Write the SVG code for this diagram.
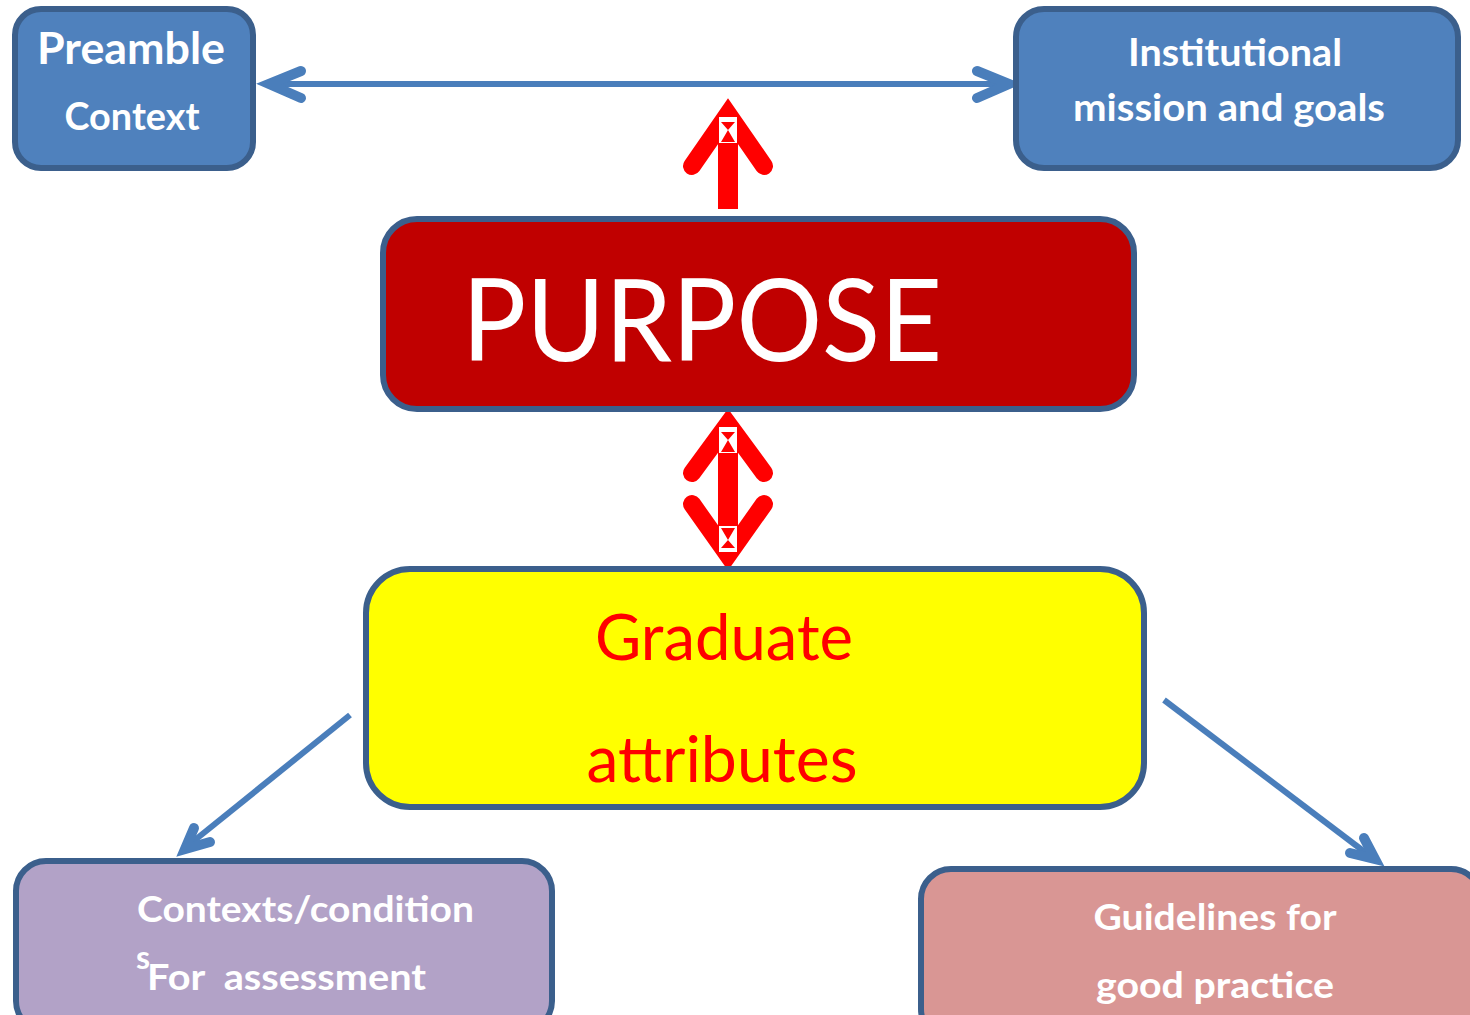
<svg xmlns="http://www.w3.org/2000/svg" width="1470" height="1015" viewBox="0 0 1470 1015">
  <style>
    .box { stroke: #3B5F8C; stroke-width: 6; }
    .lbl { font-family: Lato, "Open Sans", "Liberation Sans", sans-serif; fill: #FFFFFF; font-weight: bold; }
    .blue { fill: none; stroke: #4A7EBB; stroke-linecap: round; stroke-linejoin: miter; }
    .shaft { stroke-width: 6; stroke-linecap: butt; }
    .head { stroke-width: 10; }
    .red { fill: none; stroke: #FF0000; stroke-width: 18; stroke-linecap: round; stroke-linejoin: miter; stroke-miterlimit: 10; }
  </style>
  <rect width="1470" height="1015" fill="#FFFFFF"/>

  <!-- connectors -->
  <g id="connectors">
    <!-- two-way link between the top boxes -->
    <line class="blue shaft" x1="272" y1="84" x2="1006" y2="84"/>
    <path class="blue head" d="M301,71 L269,84 L301,98"/>
    <path class="blue head" d="M977,71 L1009,84 L977,98"/>
    <!-- purpose up to the top row -->
    <g id="arrow-up">
      <rect x="718" y="118" width="20" height="91" fill="#FF0000"/>
      <path class="red" d="M692,166 L728,114 L764,166"/>
      <rect x="719" y="117" width="18" height="26" fill="#FFFFFF"/>
      <polygon points="721,122 735,122 728,130 735,142 721,142 728,130" fill="#FF0000"/>
    </g>
    <!-- purpose and graduate attributes, both ways -->
    <g id="arrow-both">
      <rect x="718" y="428" width="20" height="124" fill="#FF0000"/>
      <path class="red" d="M692,473 L728,424 L764,473"/>
      <path class="red" d="M692,504 L728,555 L764,504"/>
      <rect x="719" y="427" width="18" height="26" fill="#FFFFFF"/>
      <polygon points="721,432 735,432 728,440 735,452 721,452 728,440" fill="#FF0000"/>
      <rect x="719" y="526" width="18" height="26" fill="#FFFFFF"/>
      <polygon points="721,528 735,528 728,540 735,548 721,548 728,540" fill="#FF0000"/>
    </g>
    <!-- graduate attributes down to the lower boxes -->
    <line class="blue shaft" x1="350" y1="715" x2="190" y2="844"/>
    <path class="blue head" d="M194,828 L185,849 L210,842"/>
    <line class="blue shaft" x1="1164" y1="700" x2="1370" y2="856"/>
    <path class="blue head" d="M1364,838 L1375,859 L1350,853"/>
  </g>

  <g id="preamble">
    <rect class="box" x="15" y="9" width="238" height="159" rx="26" fill="#4F81BD"/>
    <text class="lbl" x="131" y="64" font-size="43" text-anchor="middle" textLength="188" lengthAdjust="spacingAndGlyphs">Preamble</text>
    <text class="lbl" x="132" y="130" font-size="39" text-anchor="middle" textLength="135" lengthAdjust="spacingAndGlyphs">Context</text>
  </g>

  <g id="institutional">
    <rect class="box" x="1016" y="9" width="442" height="159" rx="28" fill="#4F81BD"/>
    <text class="lbl" x="1235" y="66" font-size="38" text-anchor="middle" textLength="214" lengthAdjust="spacingAndGlyphs">Institutional</text>
    <text class="lbl" x="1229" y="121" font-size="38" text-anchor="middle" textLength="312" lengthAdjust="spacingAndGlyphs">mission and goals</text>
  </g>

  <g id="purpose">
    <rect class="box" x="383" y="219" width="751" height="190" rx="34" fill="#C00000"/>
    <text x="462" y="361" font-family="Lato, 'Open Sans', 'Liberation Sans', sans-serif" font-size="114" fill="#FFFFFF" textLength="480" lengthAdjust="spacingAndGlyphs">PURPOSE</text>
  </g>

  <g id="graduate">
    <rect class="box" x="366" y="569" width="778" height="238" rx="44" fill="#FFFF00"/>
    <text x="724" y="660" font-family="Lato, 'Open Sans', 'Liberation Sans', sans-serif" font-size="64" fill="#FF0000" text-anchor="middle" textLength="258" lengthAdjust="spacingAndGlyphs">Graduate</text>
    <text x="722" y="782" font-family="Lato, 'Open Sans', 'Liberation Sans', sans-serif" font-size="64" fill="#FF0000" text-anchor="middle" textLength="271" lengthAdjust="spacingAndGlyphs">attributes</text>
  </g>

  <g id="assessment">
    <rect class="box" x="16" y="861" width="536" height="170" rx="30" fill="#B2A2C7"/>
    <text class="lbl" x="137" y="922" font-size="37" textLength="337" lengthAdjust="spacingAndGlyphs">Contexts/condition</text>
    <text class="lbl" x="136" y="969" font-size="32">s</text>
    <text class="lbl" x="147" y="990" font-size="37" textLength="279" lengthAdjust="spacingAndGlyphs">For&#160; assessment</text>
  </g>

  <g id="guidelines">
    <rect class="box" x="921" y="869" width="560" height="170" rx="30" fill="#D99694"/>
    <text class="lbl" x="1215" y="930" font-size="37" text-anchor="middle" textLength="243" lengthAdjust="spacingAndGlyphs">Guidelines for</text>
    <text class="lbl" x="1215" y="998" font-size="37" text-anchor="middle" textLength="238" lengthAdjust="spacingAndGlyphs">good practice</text>
  </g>
</svg>
